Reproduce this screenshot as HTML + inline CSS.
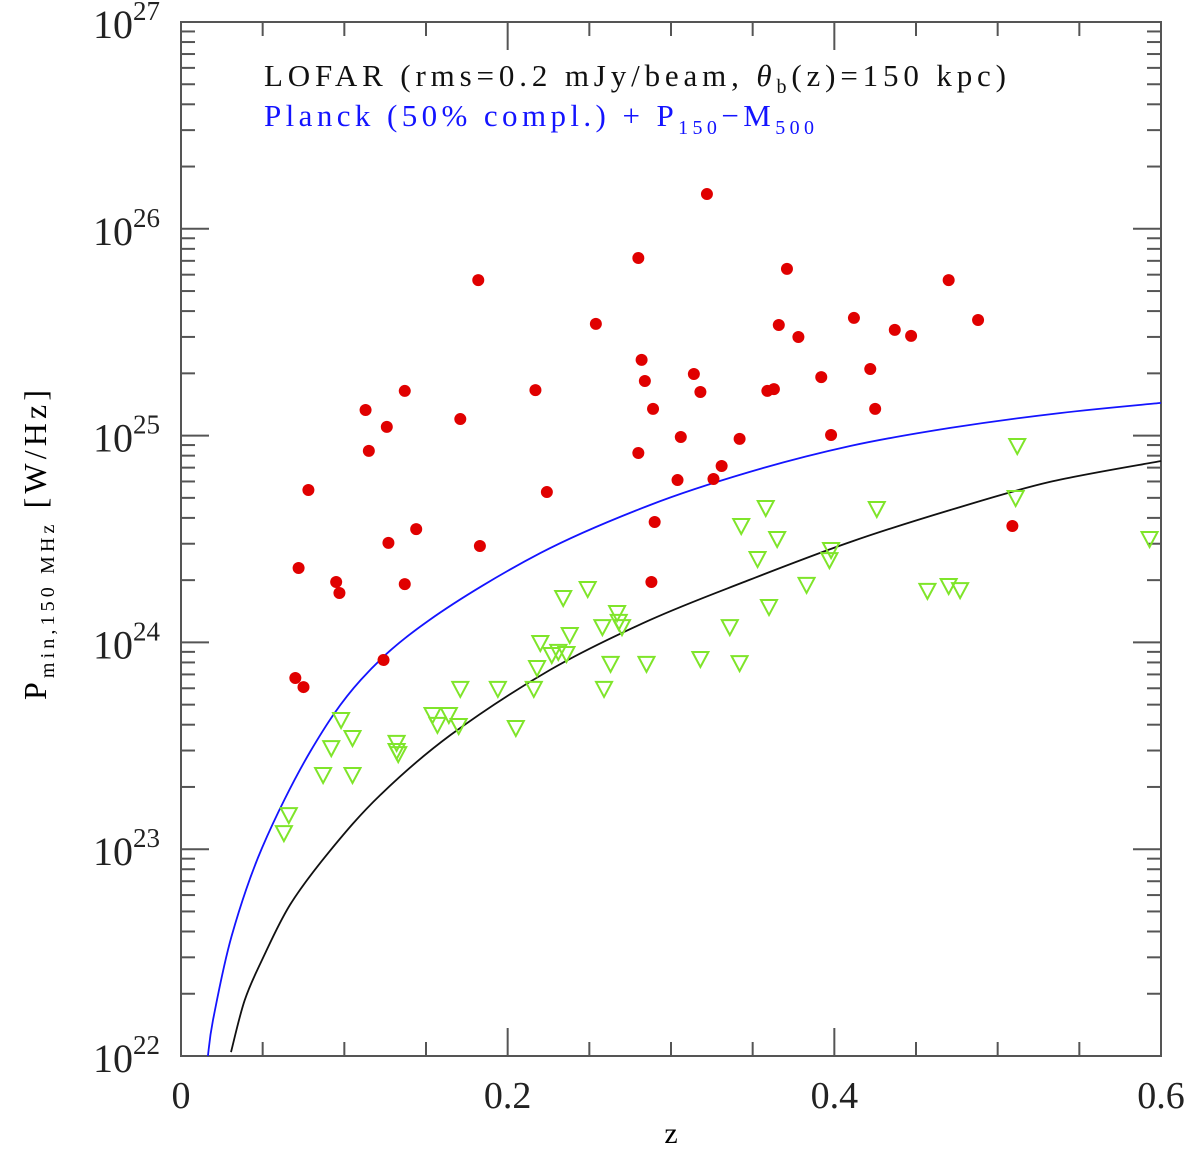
<!DOCTYPE html>
<html><head><meta charset="utf-8"><style>
html,body{margin:0;padding:0;background:#fff}
svg{display:block;font-family:"Liberation Serif",serif}
</style></head><body>
<svg id="chart" width="1200" height="1152" viewBox="0 0 1200 1152" xmlns="http://www.w3.org/2000/svg">
<g id="axes"></g>
<g id="curves"></g>
<g id="marks"></g>
<text x="264" y="86" font-size="31" fill="#111" textLength="742" lengthAdjust="spacing">LOFAR (rms=0.2 mJy/beam, <tspan font-style="italic">θ</tspan><tspan font-size="20" dy="7">b</tspan><tspan dy="-7">(z)=150 kpc)</tspan></text>
<text x="264" y="126" font-size="31" fill="#1414ff" textLength="550" lengthAdjust="spacing">Planck (50% compl.) + P<tspan font-size="20" dy="8">150</tspan><tspan dy="-8">−M</tspan><tspan font-size="20" dy="8">500</tspan></text>
<text x="671" y="1143" font-size="30" text-anchor="middle">z</text>
<text transform="translate(46,545) rotate(-90)" font-size="32" text-anchor="middle" textLength="310" lengthAdjust="spacing">P<tspan font-size="20" dy="8">min,150 MHz</tspan><tspan dy="-8"> [W/Hz]</tspan></text>
</svg>
<script>
const xTicks=[0,0.2,0.4,0.6];
const xTickLabels=["0","0.2","0.4","0.6"];
const yDecades=[22,23,24,25,26,27];
const detZ=[0.322,0.280,0.182,0.470,0.371,0.254,0.366,0.412,0.437,0.447,0.488,0.378,0.282,0.284,0.314,0.318,0.392,0.422,0.425,0.359,0.363,0.217,0.137,0.113,0.126,0.115,0.171,0.289,0.306,0.342,0.398,0.280,0.331,0.326,0.304,0.078,0.224,0.290,0.144,0.183,0.127,0.072,0.095,0.137,0.097,0.288,0.509,0.124,0.070,0.075];
const detLogP=[26.168,25.859,25.752,25.752,25.806,25.540,25.535,25.569,25.511,25.482,25.559,25.477,25.366,25.264,25.298,25.211,25.283,25.322,25.129,25.216,25.225,25.220,25.216,25.124,25.042,24.926,25.080,25.129,24.993,24.984,25.003,24.916,24.853,24.790,24.785,24.737,24.727,24.582,24.548,24.466,24.481,24.360,24.292,24.282,24.239,24.292,24.563,23.915,23.828,23.784];
const ulZ=[0.512,0.511,0.593,0.426,0.358,0.343,0.365,0.353,0.398,0.397,0.249,0.234,0.383,0.470,0.457,0.477,0.360,0.267,0.268,0.258,0.270,0.336,0.238,0.220,0.231,0.227,0.236,0.218,0.263,0.285,0.318,0.342,0.171,0.194,0.216,0.259,0.154,0.164,0.157,0.170,0.205,0.098,0.105,0.092,0.132,0.132,0.133,0.087,0.105,0.066,0.063];
const ulLogP=[24.950,24.698,24.500,24.645,24.650,24.563,24.500,24.403,24.447,24.398,24.258,24.215,24.278,24.273,24.249,24.253,24.171,24.142,24.099,24.074,24.074,24.074,24.036,23.997,23.954,23.939,23.944,23.876,23.896,23.896,23.920,23.900,23.775,23.775,23.775,23.775,23.649,23.649,23.601,23.596,23.586,23.625,23.538,23.489,23.514,23.475,23.460,23.359,23.359,23.165,23.078];
const planckZ=[0.0165,0.0196,0.031,0.0496,0.079,0.110,0.152,0.220,0.287,0.348,0.410,0.471,0.538,0.6];
const planckLogP=[22.0,22.174,22.58,23.006,23.47,23.818,24.108,24.432,24.664,24.824,24.950,25.037,25.109,25.158];
const lofarZ=[0.0306,0.039,0.0496,0.0667,0.091,0.122,0.165,0.226,0.287,0.348,0.410,0.471,0.532,0.6];
const lofarLogP=[22.019,22.27,22.464,22.73,22.99,23.262,23.552,23.867,24.108,24.302,24.486,24.64,24.776,24.877];

const X0=181,X1=1161,Y0=1056,Y1=22;
const sx=z=>X0+(z-0)/0.6*(X1-X0);
const sy=l=>Y0-(l-22)/5*(Y0-Y1);
const NS="http://www.w3.org/2000/svg";
function mk(tag,parent,attrs){const e=document.createElementNS(NS,tag);for(const k in attrs)e.setAttribute(k,attrs[k]);parent.appendChild(e);return e;}
const axes=document.getElementById('axes');
const frame=mk('rect',axes,{x:X0,y:Y1,width:X1-X0,height:Y0-Y1,fill:'none',stroke:'#555','stroke-width':2});


for(let z=0;z<=0.6001;z+=0.05){
  const major=Math.abs(z/0.2-Math.round(z/0.2))<1e-6;
  const L=major?28:14,x=sx(z);
  const t1=mk('line',axes,{x1:x,x2:x,y1:Y0,y2:Y0-L,stroke:'#555','stroke-width':2});
  
  
  const t2=mk('line',axes,{x1:x,x2:x,y1:Y1,y2:Y1+L,stroke:'#555','stroke-width':2});
  
  
}
xTicks.forEach((z,i)=>{
  const t=mk('text',axes,{x:sx(z),y:1108,'font-size':38,'text-anchor':'middle',fill:'#222'});
  t.textContent=xTickLabels[i];
  
  
});
yDecades.forEach((d,i)=>{
  const y=sy(d);
  [[X0,X0+28],[X1,X1-28]].forEach(([a,b])=>{
    const t=mk('line',axes,{x1:a,x2:b,y1:y,y2:y,stroke:'#555','stroke-width':2});
    
    
  });
  if(i<yDecades.length-1){for(let m=2;m<=9;m++){const yy=sy(d+Math.log10(m));
    [[X0,X0+14],[X1,X1-14]].forEach(([a,b])=>{
      const t=mk('line',axes,{x1:a,x2:b,y1:yy,y2:yy,stroke:'#555','stroke-width':2});
      
      
    });}}
  const lab=mk('text',axes,{x:160,y:y+16,'font-size':40,'text-anchor':'end',fill:'#222'});
  lab.innerHTML='10<tspan font-size="27" dy="-18">'+d+'</tspan>';
  
  
});
const curves=document.getElementById('curves');
function path(zs,ls){
  const p=zs.map((z,i)=>[sx(z),sy(ls[i])]);
  let d='M'+p[0][0].toFixed(1)+','+p[0][1].toFixed(1);
  for(let i=0;i<p.length-1;i++){
    const p0=p[Math.max(0,i-1)],p1=p[i],p2=p[i+1],p3=p[Math.min(p.length-1,i+2)];
    const c1=[p1[0]+(p2[0]-p0[0])/6,p1[1]+(p2[1]-p0[1])/6];
    const c2=[p2[0]-(p3[0]-p1[0])/6,p2[1]-(p3[1]-p1[1])/6];
    d+=` C${c1[0].toFixed(1)},${c1[1].toFixed(1)} ${c2[0].toFixed(1)},${c2[1].toFixed(1)} ${p2[0].toFixed(1)},${p2[1].toFixed(1)}`;
  }
  return d;
}
const pc=mk('path',curves,{d:path(planckZ,planckLogP),fill:'none',stroke:'#1414ff','stroke-width':1.8});


const lc=mk('path',curves,{d:path(lofarZ,lofarLogP),fill:'none',stroke:'#111','stroke-width':1.8});


const marks=document.getElementById('marks');
ulZ.forEach((z,i)=>{
  const x=sx(z),y=sy(ulLogP[i]);
  const p=mk('polygon',marks,{points:`${x-8},${y-7} ${x+8},${y-7} ${x},${y+8}`,fill:'none',stroke:'#7fe52a','stroke-width':2});
  
  
});
detZ.forEach((z,i)=>{
  const c=mk('circle',marks,{cx:sx(z),cy:sy(detLogP[i]),r:6,fill:'#e00000'});
  
  
});
</script>
</body></html>
